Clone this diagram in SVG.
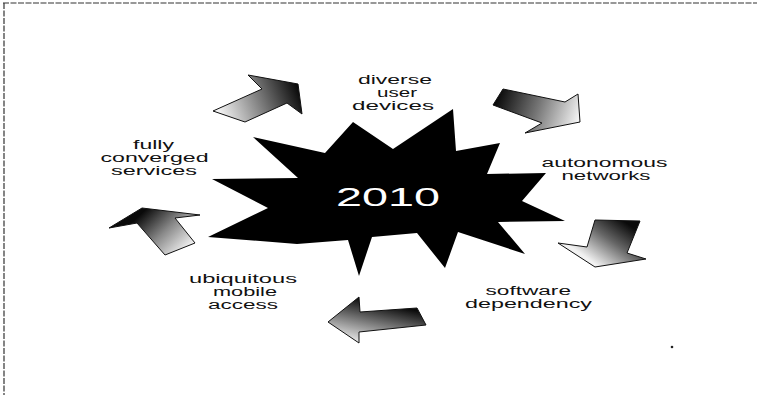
<svg xmlns="http://www.w3.org/2000/svg" width="759" height="395" viewBox="0 0 759 395">
<style>
.lbl{font-family:"Liberation Sans",Arial,sans-serif;font-size:12.5px;fill:#111}
.yr{font-family:"Liberation Sans",Arial,sans-serif;font-size:26px;fill:#fff}
.arr{stroke:#111;stroke-width:1;stroke-linejoin:miter}
.frame{stroke:#333;stroke-width:1.2;fill:none;stroke-dasharray:6 1.5}
</style>
<defs>
<linearGradient id="g1" gradientUnits="userSpaceOnUse" x1="298" y1="88" x2="222" y2="118"><stop offset="0" stop-color="#0a0a0a"/><stop offset="0.55" stop-color="#8a8a8a"/><stop offset="1" stop-color="#f2f2f2"/></linearGradient>
<linearGradient id="g2" gradientUnits="userSpaceOnUse" x1="498" y1="95" x2="578" y2="122"><stop offset="0" stop-color="#0a0a0a"/><stop offset="0.5" stop-color="#777"/><stop offset="1" stop-color="#f4f4f4"/></linearGradient>
<linearGradient id="g3" gradientUnits="userSpaceOnUse" x1="625" y1="222" x2="595" y2="264"><stop offset="0" stop-color="#0a0a0a"/><stop offset="0.45" stop-color="#666"/><stop offset="1" stop-color="#f2f2f2"/></linearGradient>
<linearGradient id="g4" gradientUnits="userSpaceOnUse" x1="360" y1="298" x2="350" y2="343"><stop offset="0" stop-color="#0a0a0a"/><stop offset="0.5" stop-color="#808080"/><stop offset="1" stop-color="#f4f4f4"/></linearGradient>
<linearGradient id="g5" gradientUnits="userSpaceOnUse" x1="145" y1="210" x2="185" y2="252"><stop offset="0" stop-color="#0a0a0a"/><stop offset="0.5" stop-color="#888"/><stop offset="1" stop-color="#f4f4f4"/></linearGradient>
</defs>
<g id="frame">
<line class="frame" x1="3" y1="3" x2="757" y2="3"/>
<line class="frame" x1="4" y1="3" x2="4" y2="395"/>
</g>
<g id="star">
<polygon fill="#000" points="353,122 393,149 453,109 456,151 500,143 487,174 546,173 522,201 565,221 498,222 525,254 458,232 445,268 417,233 372,237 359,276 348,240 297,244 208,237 268,208 212,179 298,178 253,137 325,153"/>
<text class="yr" x="336" y="206" textLength="104" lengthAdjust="spacingAndGlyphs">2010</text>
</g>
<g id="connectors">
<polygon class="arr" fill="url(#g1)" points="248,75 298,84 302,114 287,103 245,122 213,111 262,89"/>
<polygon class="arr" fill="url(#g2)" points="503,89 565,102 578,94 580,122 525,133 542,123 493,105"/>
<polygon class="arr" fill="url(#g3)" points="595,220 640,221 627,253 646,259 595,267 558,243 587,247"/>
<polygon class="arr" fill="url(#g4)" points="328,322 359,297 360,312 417,308 426,325 359,332 359,343"/>
<polygon class="arr" fill="url(#g5)" points="109,228 142,208 200,215 175,218 195,243 165,255 137,223"/>
</g>
<g id="n-devices">
<text class="lbl" x="358" y="84" textLength="74" lengthAdjust="spacingAndGlyphs">diverse</text>
<text class="lbl" x="377" y="97" textLength="40" lengthAdjust="spacingAndGlyphs">user</text>
<text class="lbl" x="352" y="110" textLength="82" lengthAdjust="spacingAndGlyphs">devices</text>
</g>
<g id="n-networks">
<text class="lbl" x="541.5" y="167" textLength="126" lengthAdjust="spacingAndGlyphs">autonomous</text>
<text class="lbl" x="561.5" y="180" textLength="89" lengthAdjust="spacingAndGlyphs">networks</text>
</g>
<g id="n-software">
<text class="lbl" x="485.5" y="295" textLength="85.5" lengthAdjust="spacingAndGlyphs">software</text>
<text class="lbl" x="465" y="308" textLength="127" lengthAdjust="spacingAndGlyphs">dependency</text>
</g>
<g id="n-mobile">
<text class="lbl" x="189" y="283" textLength="108" lengthAdjust="spacingAndGlyphs">ubiquitous</text>
<text class="lbl" x="213" y="296" textLength="64" lengthAdjust="spacingAndGlyphs">mobile</text>
<text class="lbl" x="208" y="309" textLength="70" lengthAdjust="spacingAndGlyphs">access</text>
</g>
<g id="n-services">
<text class="lbl" x="133" y="149" textLength="41" lengthAdjust="spacingAndGlyphs">fully</text>
<text class="lbl" x="100.5" y="162" textLength="108" lengthAdjust="spacingAndGlyphs">converged</text>
<text class="lbl" x="111" y="175" textLength="86" lengthAdjust="spacingAndGlyphs">services</text>
</g>
<circle cx="672" cy="347" r="1.3" fill="#222"/>
</svg>
